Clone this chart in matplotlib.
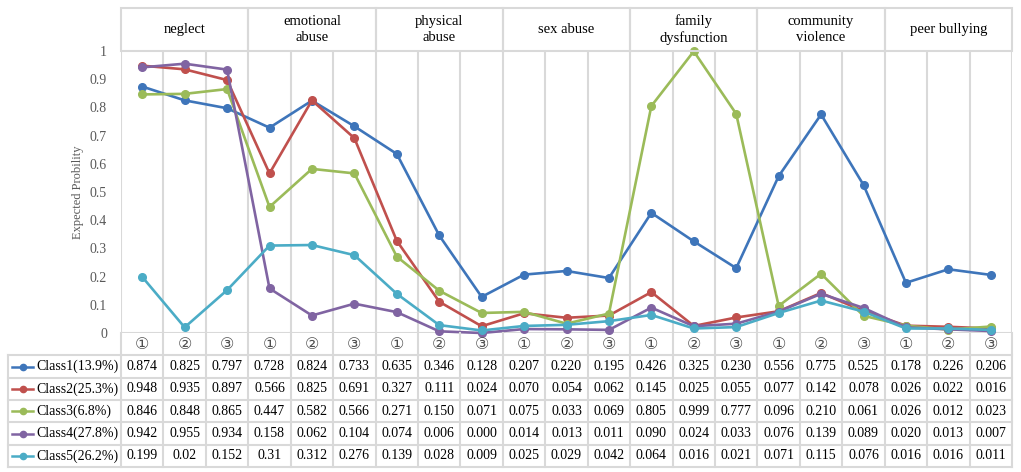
import matplotlib.pyplot as plt
from matplotlib.patches import Rectangle

plt.rcParams['font.family'] = ['Liberation Serif', 'DejaVu Sans']

domains = ['neglect', 'emotional\nabuse', 'physical\nabuse', 'sex abuse',
           'family\ndysfunction', 'community\nviolence', 'peer bullying']
items = ['①', '②', '③']
class_names = ['Class1(13.9%)', 'Class2(25.3%)', 'Class3(6.8%)',
               'Class4(27.8%)', 'Class5(26.2%)']
colors = ['#3E75BA', '#C0504D', '#9BBB59', '#8064A2', '#4BACC6']

class1 = ['0.874', '0.825', '0.797', '0.728', '0.824', '0.733', '0.635', '0.346', '0.128',
          '0.207', '0.220', '0.195', '0.426', '0.325', '0.230', '0.556', '0.775', '0.525',
          '0.178', '0.226', '0.206']
class2 = ['0.948', '0.935', '0.897', '0.566', '0.825', '0.691', '0.327', '0.111', '0.024',
          '0.070', '0.054', '0.062', '0.145', '0.025', '0.055', '0.077', '0.142', '0.078',
          '0.026', '0.022', '0.016']
class3 = ['0.846', '0.848', '0.865', '0.447', '0.582', '0.566', '0.271', '0.150', '0.071',
          '0.075', '0.033', '0.069', '0.805', '0.999', '0.777', '0.096', '0.210', '0.061',
          '0.026', '0.012', '0.023']
class4 = ['0.942', '0.955', '0.934', '0.158', '0.062', '0.104', '0.074', '0.006', '0.000',
          '0.014', '0.013', '0.011', '0.090', '0.024', '0.033', '0.076', '0.139', '0.089',
          '0.020', '0.013', '0.007']
class5 = ['0.199', '0.02', '0.152', '0.31', '0.312', '0.276', '0.139', '0.028', '0.009',
          '0.025', '0.029', '0.042', '0.064', '0.016', '0.021', '0.071', '0.115', '0.076',
          '0.016', '0.016', '0.011']
table = [class1, class2, class3, class4, class5]

W, H = 1021, 472
grid_c = '#D9D9D9'
ncol = 21


def fx(px):
    return px / W


def fy(py):
    return 1 - py / H


left, right = 121, 1012
col_w = (right - left) / ncol

fig = plt.figure(figsize=(W / 100, H / 100), dpi=100)

# main plot
ax = fig.add_axes([fx(left), fy(333), fx(right) - fx(left), fy(51) - fy(333)])
ax.set_xlim(0, ncol)
ax.set_ylim(0, 1)
for k in range(ncol + 1):
    ax.axvline(k, color=grid_c, lw=1.5, zorder=0)
for s in ax.spines.values():
    s.set_visible(False)
ax.axhline(0, color=grid_c, lw=1.5, zorder=0)
xs = [i + 0.5 for i in range(ncol)]
for vals, c in zip(table, colors):
    ax.plot(xs, [float(v) for v in vals], color=c, lw=1.9, marker='o', ms=5.5, zorder=3,
            clip_on=False)
ax.set_xticks([])
ax.set_yticks([i / 10 for i in range(11)])
ax.set_yticklabels(['0'] + ['0.%d' % i for i in range(1, 10)] + ['1'])
ax.tick_params(axis='y', length=0, pad=10, labelsize=10, labelcolor='#595959')
ax.set_ylabel('Expected Probility', fontsize=9, color='#595959', labelpad=4)

# header boxes
hax = fig.add_axes([fx(left), fy(51), fx(right) - fx(left), fy(8) - fy(51)])
hax.set_xlim(0, ncol)
hax.set_ylim(0, 1)
hax.axis('off')
for j, name in enumerate(domains):
    hax.add_patch(Rectangle((3 * j, 0), 3, 1, fill=False, ec=grid_c, lw=1.5, clip_on=False))
    hax.text(3 * j + 1.5, 0.5, name, ha='center', va='center', fontsize=10.5,
             linespacing=1.3)

# data table
x0 = (left - 8) / col_w
tax = fig.add_axes([fx(8), fy(467), fx(right) - fx(8), fy(333) - fy(467)])
tax.set_xlim(-x0, ncol)
tax.set_ylim(6, 0)
tax.axis('off')
for k in range(ncol + 1):
    tax.plot([k, k], [0, 6], color=grid_c, lw=1.5, clip_on=False)
tax.plot([-x0, -x0], [1, 6], color=grid_c, lw=1.5, clip_on=False)
for r in range(1, 7):
    tax.plot([-x0, ncol], [r, r], color=grid_c, lw=1.5, clip_on=False)
for i in range(ncol):
    tax.text(i + 0.5, 0.5, items[i % 3], ha='center', va='center', fontsize=11.5,
             color='#505050', family=['DejaVu Sans', 'Noto Sans CJK SC'])
for r, (vals, c, nm) in enumerate(zip(table, colors, class_names)):
    y = r + 1.5
    lx0 = -x0 + 4 / col_w
    lx1 = -x0 + 25 / col_w
    tax.plot([lx0, lx1], [y, y], color=c, lw=1.8, clip_on=False)
    tax.plot([(lx0 + lx1) / 2], [y], 'o', color=c, ms=4.5, clip_on=False)
    tax.text(-x0 + 28 / col_w, y, nm, ha='left', va='center', fontsize=10)
    for i, v in enumerate(vals):
        tax.text(i + 0.5, y, v, ha='center', va='center', fontsize=10)

fig.savefig('out.png', dpi=100)
